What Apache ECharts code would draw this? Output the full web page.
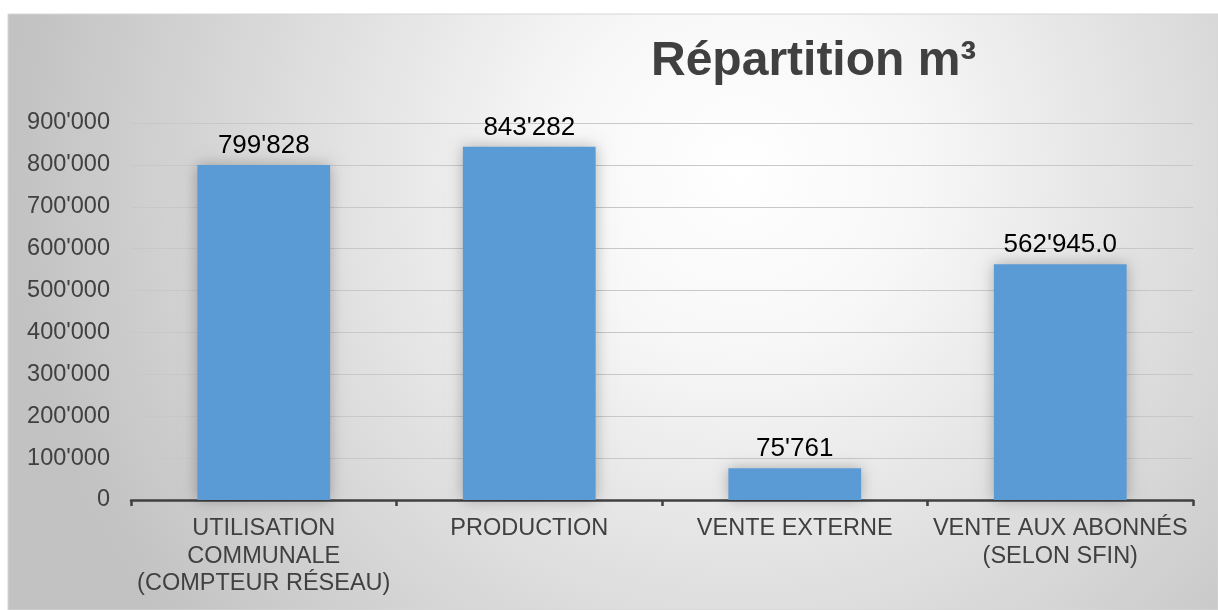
<!DOCTYPE html>
<html>
<head>
<meta charset="utf-8">
<script src="https://cdn.jsdelivr.net/npm/echarts@6/dist/echarts.min.js"></script>
<style>
  html, body { margin: 0; padding: 0; background: #fff; }
  #chart { width: 1218px; height: 610px; }
</style>
</head>
<body>
<div id="chart"></div>
<script>
// données
const categories = ['UTILISATION\nCOMMUNALE\n(COMPTEUR RÉSEAU)', 'PRODUCTION', 'VENTE EXTERNE', 'VENTE AUX ABONNÉS\n(SELON SFIN)']
const volumes = [799828, 843282, 75761, 562945.0]
const labelDecimals = [0, 0, 0, 1]
const yTicks = [0, 100000, 200000, 300000, 400000, 500000, 600000, 700000, 800000, 900000]

// format suisse : 1'234'567
const fmt = (v, dec) => {
  const parts = Number(v).toFixed(dec || 0).split('.')
  parts[0] = parts[0].replace(/\B(?=(\d{3})+(?!\d))/g, "'")
  return parts.join('.')
}

const chart = echarts.init(document.getElementById('chart'))

const option = {
  animation: false,
  textStyle: { fontFamily: 'Liberation Sans, Arial, sans-serif' },
  graphic: [
    {
      type: 'rect',
      z: -10,
      silent: true,
      shape: { x: 8, y: 14, width: 1210, height: 596 },
      style: {
        fill: {
          type: 'radial',
          global: true,
          x: 740, y: 170, r: 730,
          colorStops: [
            { offset: 0, color: '#ffffff' },
            { offset: 0.25, color: '#f7f7f7' },
            { offset: 1, color: '#c2c2c2' }
          ]
        },
        stroke: '#d6d6d6',
        lineWidth: 1
      }
    }
  ],
  title: {
    text: 'Répartition m³',
    left: 646,
    top: 33,
    textStyle: {
      fontSize: 48,
      fontWeight: 'bold',
      color: '#404040',
      fontFamily: 'Liberation Sans, Arial, sans-serif'
    }
  },
  grid: {
    left: 131,
    right: 25,
    top: 123,
    bottom: 110,
    containLabel: false
  },
  xAxis: {
    type: 'category',
    data: categories,
    axisLine: { lineStyle: { color: '#404040', width: 2.5 } },
    axisTick: { show: true, length: 6, lineStyle: { color: '#404040', width: 2.5 } },
    axisLabel: {
      interval: 0,
      margin: 15,
      fontSize: 23.5,
      lineHeight: 27.5,
      color: '#404040'
    }
  },
  yAxis: {
    type: 'value',
    min: 0,
    max: yTicks[yTicks.length - 1],
    interval: yTicks[1] - yTicks[0],
    axisLine: { show: false },
    axisTick: { show: false },
    splitLine: { lineStyle: { color: '#c8c8c8', width: 1 } },
    axisLabel: {
      fontSize: 23.5,
      color: '#404040',
      margin: 21,
      formatter: v => fmt(v, 0)
    }
  },
  series: [
    {
      type: 'bar',
      data: volumes,
      barWidth: '50%',
      itemStyle: {
        color: '#5b9bd5',
        shadowBlur: 14,
        shadowColor: 'rgba(0,0,0,0.28)',
        shadowOffsetX: 0,
        shadowOffsetY: 0
      },
      label: {
        show: true,
        position: 'top',
        distance: 6,
        fontSize: 26,
        color: '#000',
        formatter: p => fmt(p.value, labelDecimals[p.dataIndex])
      }
    }
  ]
}

chart.setOption(option)
</script>
</body>
</html>
